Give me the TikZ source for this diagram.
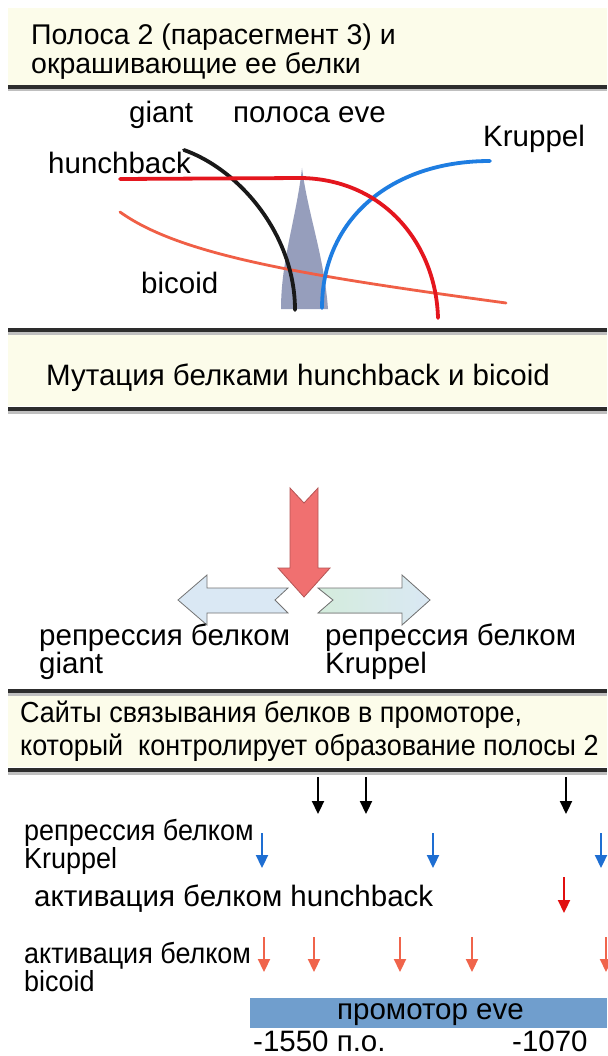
\documentclass[tikz,border=0pt]{standalone}
\usepackage{fontspec}
\setmainfont{Liberation Sans}
\newfontfamily\narrowfont[FakeStretch=0.93]{Liberation Sans}
\usepackage{tikz}
\usetikzlibrary{
    arrows.meta
}
\usepackage{xcolor}
\definecolor{bandyellow}{RGB}{252,252,234}
\definecolor{linegray}{RGB}{45,45,45}
\definecolor{hbred}{RGB}{228,22,30}
\definecolor{krblue}{RGB}{30,125,225}
\definecolor{bcdorange}{RGB}{240,95,70}
\definecolor{evegray}{RGB}{150,158,188}
\definecolor{mutred}{RGB}{240,112,112}
\definecolor{repblue}{RGB}{218,232,244}
\definecolor{repgreen}{RGB}{212,236,220}
\definecolor{siteblue}{RGB}{30,110,210}
\definecolor{sitered}{RGB}{225,15,15}
\definecolor{siteorange}{RGB}{240,100,75}
\definecolor{promblue}{RGB}{112,158,205}
\tikzstyle{band} = [
    fill=bandyellow,
    draw=none
]
\tikzstyle{sepline} = [
    line width=4pt,
    draw=linegray
]
\tikzstyle{sepshadow} = [
    line width=3pt,
    draw=black!25
]
\tikzstyle{curve} = [
    line width=3.8pt,
    line cap=round
]
\tikzstyle{site} = [
    -{Triangle[width=12pt,length=13pt]},
    line width=2.2pt
]
\tikzstyle{txt} = [
    anchor=base west,
    inner sep=0pt,
    font=\fontsize{29.5}{31}\selectfont
]
\tikzstyle{ntxt} = [
    anchor=base west,
    inner sep=0pt,
    font=\narrowfont\fontsize{29}{31}\selectfont
]

\begin{document}
\begin{tikzpicture}[x=1pt, y=-1pt]
        \useasboundingbox (0,0) rectangle (607,1056);
        \fill[white] (0,0) rectangle (607,1056);

        % Heading bands
        \fill[band] (8,8) rectangle (607,85);
        \fill[band] (8,334) rectangle (607,406);
        \fill[band] (8,694) rectangle (607,767);
        \foreach \y in {87,330,409,691,770} {
            \draw[sepshadow] (8,{\y+3}) -- (607,{\y+3});
            \draw[sepline] (8,\y) -- (607,\y);
        }

        % Stripe 2 heading
        \node[txt, font=\fontsize{28.5}{30}\selectfont] (hd1a) at (31,45) {Полоса 2 (парасегмент 3) и};
        \node[txt, font=\fontsize{28.5}{30}\selectfont] (hd1b) at (31,74) {окрашивающие ее белки};

        % Protein gradients around the eve stripe
        \fill[evegray] (302,168) .. controls (296,220) and (281,260) .. (281,309)
            -- (328,309) .. controls (324,255) and (308,215) .. (302,168);
        \draw[line width=2.8pt, bcdorange, line cap=round]
            (120,212) .. controls (180,255) and (300,275) .. (506,303);
        \draw[curve, black!90] (184,150) .. controls (240,170) and (295,235) .. (295,310);
        \draw[curve, krblue] (322,308) .. controls (322,220) and (390,161) .. (490,161);
        \draw[curve, hbred] (120,179) -- (302,178) .. controls (385,180) and (436,245) .. (438,318);
        \node[txt] (giant) at (129,123) {giant};
        \node[txt] (eve) at (233,123) {полоса eve};
        \node[txt] (kr) at (483,147) {Kruppel};
        \node[txt] (hb) at (48,174) {hunchback};
        \node[txt] (bcd) at (141,294) {bicoid};

        % Mutation heading
        \node[txt] (hd2) at (46,385) {Мутация белками hunchback и bicoid};

        % Mutation arrows
        \filldraw[fill=mutred, draw=mutred!75!black, line width=0.8pt]
            (290,488) -- (304,503) -- (318,488) -- (318,568) -- (330,568)
            -- (304,597) -- (278,568) -- (290,568) -- cycle;
        \filldraw[fill=repblue, draw=black!55, line width=0.8pt]
            (178,600) -- (207,575) -- (207,588) -- (288,588) -- (275,600)
            -- (288,613) -- (207,613) -- (207,625) -- cycle;
        \filldraw[left color=repgreen, right color=repblue, draw=black!55, line width=0.8pt]
            (318,588) -- (402,588) -- (402,575) -- (430,600) -- (402,625)
            -- (402,613) -- (318,613) -- (333,600) -- cycle;
        \node[txt] (repgt) at (39,645) {репрессия белком};
        \node[txt] (gt) at (39,673) {giant};
        \node[txt] (repkr) at (325,645) {репрессия белком};
        \node[txt] (krb) at (325,673) {Kruppel};

        % Binding sites heading
        \node[ntxt] (hd3a) at (20,722) {Сайты связывания белков в промоторе,};
        \node[ntxt] (hd3b) at (20,755) {который\ \ контролирует образование полосы 2};

        % Binding sites
        \foreach \x in {318,366,566} \draw[site, black] (\x,777) -- (\x,814);
        \foreach \x in {262,433,601} \draw[site, siteblue] (\x,833) -- (\x,868);
        \draw[site, sitered] (564,877) -- (564,913);
        \foreach \x in {264,314,400,472,606} \draw[site, siteorange] (\x,937) -- (\x,972);
        \node[ntxt] (rkr) at (24,840) {репрессия белком};
        \node[ntxt] (rkrb) at (24,868) {Kruppel};
        \node[txt] (ahb) at (34,906) {активация белком hunchback};
        \node[ntxt] (abcd) at (24,963) {активация белком};
        \node[ntxt] (abcdb) at (24,991) {bicoid};

        % Promoter
        \fill[promblue] (250,998) rectangle (607,1028);
        \node[txt] (prom) at (337,1019) {промотор eve};
        \node[txt] (p1550) at (253,1051) {-1550 п.о.};
        \node[txt] (p1070) at (512,1051) {-1070};
    \end{tikzpicture}
\end{document}
